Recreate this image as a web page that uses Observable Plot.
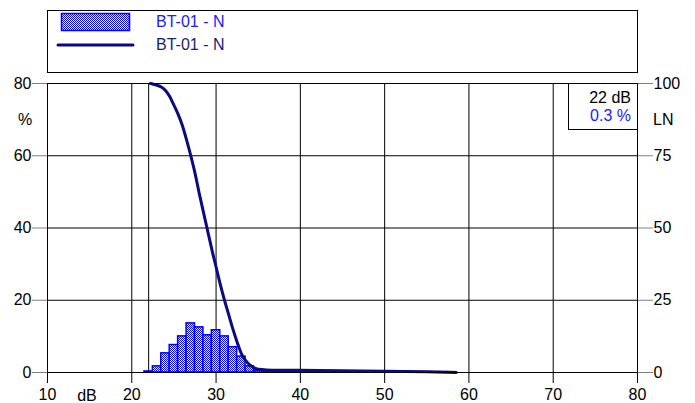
<!DOCTYPE html>
<html>
<head>
<meta charset="utf-8">
<script src="https://cdn.jsdelivr.net/npm/d3@7"></script>
<script src="https://cdn.jsdelivr.net/npm/@observablehq/plot@0.6"></script>
<style>
  html, body { margin: 0; padding: 0; background: #fff; }
  #chart svg { display: block; }
</style>
</head>
<body>
<svg width="0" height="0" style="position:absolute">
  <defs>
    <pattern id="chk" width="2" height="2" patternUnits="userSpaceOnUse">
      <rect width="2" height="2" fill="#ffffff"></rect>
      <rect width="1" height="1" fill="#0000ff"></rect>
      <rect x="1" y="1" width="1" height="1" fill="#0000ff"></rect>
    </pattern>
  </defs>
</svg>
<div id="chart"></div>
<script>
// Histogram: level classes (dB) and share of time (%)
const binDb = [22,23,24,25,26,27,28,29,30,31,32,33,34,35,36,37,38,39,40,41,42,43,44,45,46,47,48,49,50,51,52,53,54,55,56,57,58];
const binPct = [0.3,1.7,5.3,7.6,10.0,13.6,12.5,10.3,11.7,10.0,7.0,4.4,1.7,0.5,0.1,0.1,0.1,0.1,0.1,0.1,0.1,0.1,0.1,0.1,0.1,0.1,0.1,0.1,0.1,0.1,0.1,0.1,0.1,0.1,0.1,0.1,0.1];

// Cumulative LN curve (dB, LN)
const lnDb  = [22.2,22.5,23,23.5,24,24.5,25,25.5,26,26.5,27,27.5,28,28.5,29,29.5,30,30.5,31,31.5,32,32.5,33,33.5,34,34.5,35,36,38,40,45,50,55,58.5];
const lnVal = [100,99.8,99.4,98.8,97.6,95.5,92.5,89.3,85.5,80.5,75,69,62,55.5,49,42.5,36.5,30.5,25,20,15,10.5,6.5,4.2,2.6,1.6,1.1,0.9,0.8,0.75,0.6,0.45,0.25,0];

// Axis ticks
const xTicks = [10,20,30,40,50,60,70,80];
const yTicks = [0,20,40,60,80];
const lnTicks = [0,25,50,75,100];
const gridX = [20,30,40,50,60,70];
const gridY = [20,40,60];

// Cursor readout
const cursorDb = 22;
const cursorPct = 0.3;
const seriesName = "BT-01 - N";

const bins = binDb.map((d, i) => ({db: d, pct: binPct[i]}));
const curve = lnDb.map((d, i) => ({db: d, ln: lnVal[i]}));
const lnScale = 80 / 100;

const navy = "#0b0b80";
const blue = "#0000ff";
const font = "'Liberation Sans', Arial, sans-serif";

const chart = Plot.plot({
  width: 695,
  height: 403,
  marginLeft: 47,
  marginRight: 58,
  marginTop: 83,
  marginBottom: 31,
  x: {domain: [10, 80]},
  y: {domain: [0, 80]},
  style: {fontFamily: font, fontSize: "16px", background: "#fff", color: "#000"},
  marks: [
    Plot.ruleX(gridX, {stroke: "#000", strokeWidth: 1}),
    Plot.ruleY(gridY, {stroke: "#000", strokeWidth: 1}),
    Plot.ruleX([cursorDb], {stroke: "#000", strokeWidth: 1}),
    Plot.rectY(bins, {x1: d => d.db - 0.5, x2: d => d.db + 0.5, y: "pct", fill: "url(#chk)", stroke: blue, strokeWidth: 1.5, inset: 0}),
    Plot.line(curve, {x: "db", y: d => d.ln * lnScale, stroke: navy, strokeWidth: 3, curve: "monotone-x"}),
    Plot.frame({stroke: "#000"}),
    Plot.axisX({ticks: xTicks, tickSize: 11, tickPadding: 5, label: null, stroke: "#000"}),
    Plot.axisY({ticks: yTicks, tickSize: 15, tickPadding: 1, label: null, stroke: "#808080"}),
    Plot.axisY({anchor: "right", ticks: lnTicks.map(v => v * lnScale), tickFormat: v => String(Math.round(v / lnScale)), tickSize: 15, tickPadding: 1, label: null, stroke: "#808080"})
  ]
});

document.getElementById("chart").appendChild(chart);

const svg = d3.select(chart);
const g = svg.append("g").attr("font-family", font).attr("text-anchor", "start");

// Legend box
g.append("rect").attr("x", 47.5).attr("y", 10.5).attr("width", 590).attr("height", 62).attr("fill", "none").attr("stroke", "#000");
g.append("rect").attr("x", 61.5).attr("y", 13.5).attr("width", 68).attr("height", 17).attr("fill", "url(#chk)").attr("stroke", blue).attr("stroke-width", 1.5);
g.append("text").attr("x", 156).attr("y", 27).attr("font-size", 16).attr("text-anchor", "start").attr("fill", "#1a1aff").text(seriesName);
g.append("line").attr("x1", 58).attr("x2", 133).attr("y1", 45).attr("y2", 45).attr("stroke", navy).attr("stroke-width", 3).attr("stroke-linecap", "round");
g.append("text").attr("x", 156).attr("y", 50).attr("font-size", 16).attr("text-anchor", "start").attr("fill", "#1c1c70").text(seriesName);

// Readout box
g.append("rect").attr("x", 568.5).attr("y", 83.5).attr("width", 69).attr("height", 46).attr("fill", "#fff").attr("stroke", "#000");
g.append("text").attr("x", 631).attr("y", 103).attr("font-size", 16).attr("text-anchor", "end").attr("fill", "#000").text(cursorDb + " dB");
g.append("text").attr("x", 631).attr("y", 121).attr("font-size", 16).attr("text-anchor", "end").attr("fill", "#1a1aff").text(cursorPct + " %");

// Axis unit labels
g.append("text").attr("x", 25).attr("y", 125).attr("font-size", 16).attr("text-anchor", "middle").text("%");
g.append("text").attr("x", 653).attr("y", 125).attr("font-size", 16).attr("text-anchor", "start").text("LN");
g.append("text").attr("x", 87).attr("y", 401).attr("font-size", 16).attr("text-anchor", "middle").text("dB");
</script>
</body>
</html>
